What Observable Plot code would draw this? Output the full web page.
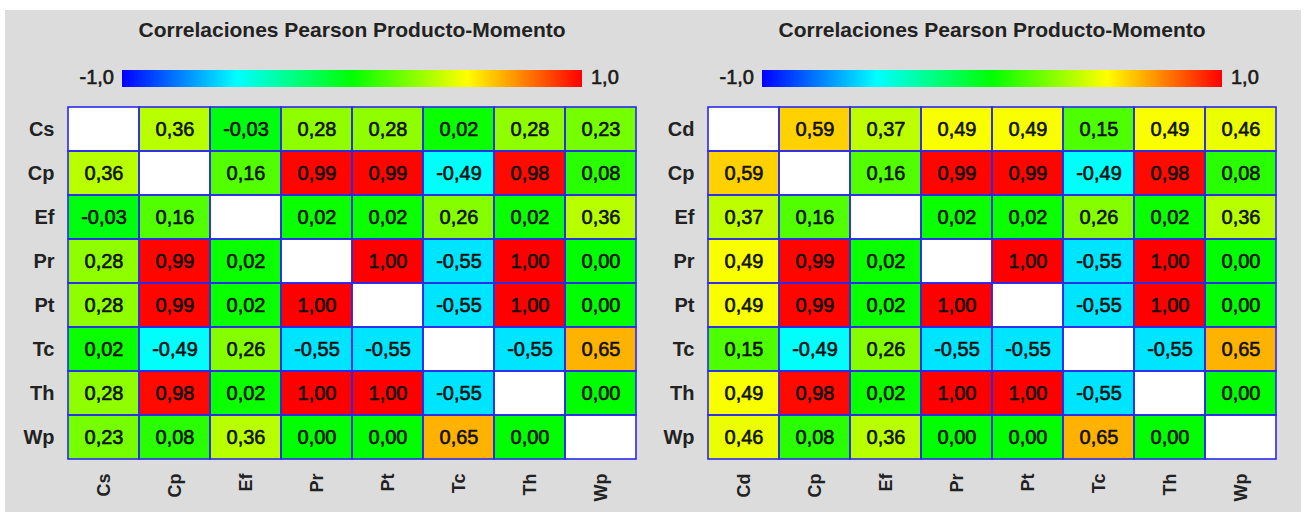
<!DOCTYPE html>
<html><head><meta charset="utf-8">
<script src="https://cdn.jsdelivr.net/npm/d3@7"></script>
<script src="https://cdn.jsdelivr.net/npm/@observablehq/plot@0.6"></script>
<style>
body{margin:0;background:#fff;font-family:"Liberation Sans",Arial,sans-serif;}
#root{position:relative;width:1306px;height:512px;overflow:hidden;background:#fff;}
#bg{position:absolute;left:5px;top:10px;width:1296px;height:502px;background:#dcdcdc;}
.panel{position:absolute;top:0;width:653px;height:512px;}
.title{position:absolute;top:18px;font-size:21px;font-weight:bold;line-height:24px;color:#222;white-space:nowrap;transform:translateX(-50%);}
.bar{position:absolute;top:70px;height:17px;width:460px;}
.lab{position:absolute;top:66px;font-size:20px;line-height:22px;color:#1a1a1a;white-space:nowrap;-webkit-text-stroke:0.6px #1a1a1a;}
.panel svg{position:absolute;left:0;top:95px;}
</style></head>
<body><div id="root"><div id="bg"></div></div>
<script>
const titleText = "Correlaciones Pearson Producto-Momento";
const legendLow = "-1,0";
const legendHigh = "1,0";
const colorStops = [-1, -0.5, 0, 0.5, 1];
const colorRange = ["#0000ff", "#00ffff", "#00ff00", "#ffff00", "#ff0000"];

const labelsA = ["Cs", "Cp", "Ef", "Pr", "Pt", "Tc", "Th", "Wp"];
const valuesA = [
  [null, 0.36, -0.03, 0.28, 0.28, 0.02, 0.28, 0.23],
  [0.36, null, 0.16, 0.99, 0.99, -0.49, 0.98, 0.08],
  [-0.03, 0.16, null, 0.02, 0.02, 0.26, 0.02, 0.36],
  [0.28, 0.99, 0.02, null, 1.00, -0.55, 1.00, 0.00],
  [0.28, 0.99, 0.02, 1.00, null, -0.55, 1.00, 0.00],
  [0.02, -0.49, 0.26, -0.55, -0.55, null, -0.55, 0.65],
  [0.28, 0.98, 0.02, 1.00, 1.00, -0.55, null, 0.00],
  [0.23, 0.08, 0.36, 0.00, 0.00, 0.65, 0.00, null]
];

const labelsB = ["Cd", "Cp", "Ef", "Pr", "Pt", "Tc", "Th", "Wp"];
const valuesB = [
  [null, 0.59, 0.37, 0.49, 0.49, 0.15, 0.49, 0.46],
  [0.59, null, 0.16, 0.99, 0.99, -0.49, 0.98, 0.08],
  [0.37, 0.16, null, 0.02, 0.02, 0.26, 0.02, 0.36],
  [0.49, 0.99, 0.02, null, 1.00, -0.55, 1.00, 0.00],
  [0.49, 0.99, 0.02, 1.00, null, -0.55, 1.00, 0.00],
  [0.15, -0.49, 0.26, -0.55, -0.55, null, -0.55, 0.65],
  [0.49, 0.98, 0.02, 1.00, 1.00, -0.55, null, 0.00],
  [0.46, 0.08, 0.36, 0.00, 0.00, 0.65, 0.00, null]
];

const FONT = "'Liberation Sans', Arial, sans-serif";
const fmt = v => v.toFixed(2).replace(".", ",");

function flatten(labels, values) {
  const out = [];
  values.forEach((r, i) => r.forEach((v, j) => out.push({row: labels[i], col: labels[j], v})));
  return out;
}

function panel(left, labels, values, mLeft, mRight) {
  const W = 653;
  const root = document.getElementById("root");
  const p = document.createElement("div");
  p.className = "panel";
  p.style.left = left + "px";
  root.appendChild(p);
  const matW = W - mLeft - mRight;
  const cx = mLeft + matW / 2;

  const t = document.createElement("div");
  t.className = "title"; t.textContent = titleText; t.style.left = cx + "px";
  p.appendChild(t);

  const bar = document.createElement("div");
  bar.className = "bar";
  bar.style.left = (cx - 230) + "px";
  bar.style.background = "linear-gradient(to right," + colorRange.map((c, i) => c + " " + ((colorStops[i] + 1) / 2 * 100) + "%").join(",") + ")";
  p.appendChild(bar);

  const lo = document.createElement("div");
  lo.className = "lab"; lo.textContent = legendLow;
  lo.style.right = (W - (cx - 230) + 8) + "px";
  p.appendChild(lo);
  const hi = document.createElement("div");
  hi.className = "lab"; hi.textContent = legendHigh;
  hi.style.left = (cx + 230 + 9) + "px";
  p.appendChild(hi);

  const data = flatten(labels, values);
  const chart = Plot.plot({
    width: W, height: 417,
    marginTop: 9, marginBottom: 50, marginLeft: mLeft, marginRight: mRight,
    x: {domain: labels, padding: 0, label: null},
    y: {domain: labels, padding: 0, label: null},
    color: {type: "linear", domain: colorStops, range: colorRange, interpolate: "rgb"},
    style: {background: "transparent", fontFamily: FONT, color: "#222", overflow: "visible"},
    marks: [
      Plot.cell(data.filter(d => d.v == null), {x: "col", y: "row", fill: "white", inset: 0}),
      Plot.cell(data.filter(d => d.v != null), {x: "col", y: "row", fill: "v", inset: 0}),
      Plot.cell(data, {x: "col", y: "row", fill: "none", stroke: "#2a2aee", strokeWidth: 1.6, inset: 0}),
      Plot.text(data.filter(d => d.v != null), {x: "col", y: "row", text: d => fmt(d.v), fontSize: 20, fill: "#111", stroke: "#111", strokeWidth: 0.6}),
      Plot.axisY({tickSize: 0, tickPadding: 12, fontSize: 20, fontWeight: "bold", label: null}),
      Plot.axisX({anchor: "bottom", tickSize: 0, tickPadding: 11, tickRotate: -90, fontSize: 18, fontWeight: "bold", label: null})
    ]
  });
  p.appendChild(chart);
}

panel(0, labelsA, valuesA, 66, 15);
panel(653, labelsB, valuesB, 53, 28);
</script>
</body></html>
